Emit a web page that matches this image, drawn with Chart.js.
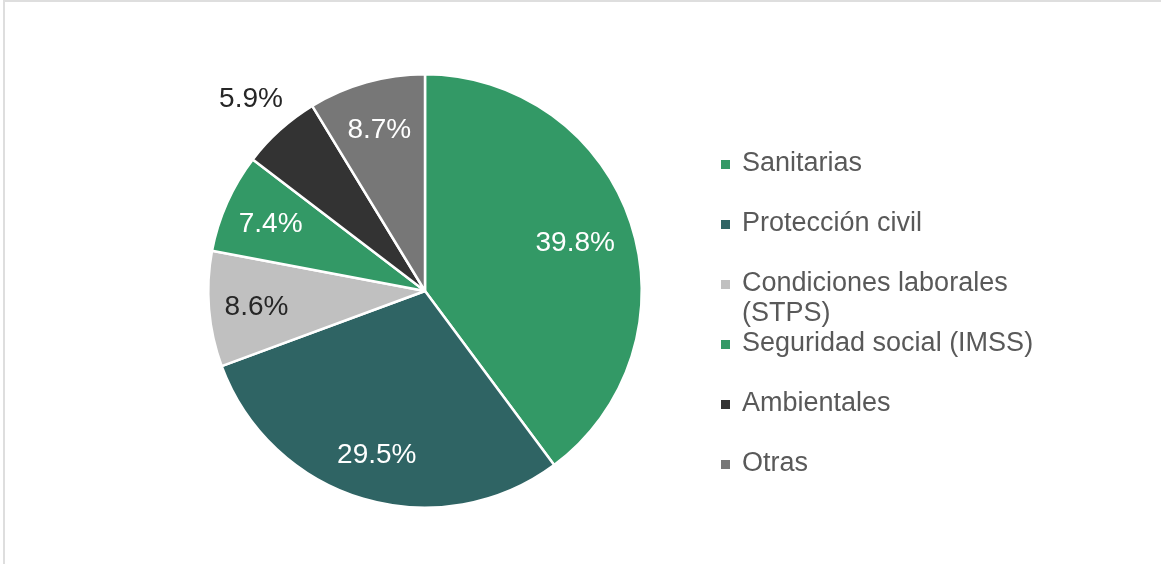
<!DOCTYPE html>
<html>
<head>
<meta charset="utf-8">
<script src="https://cdn.jsdelivr.net/npm/chart.js@4.4.0/dist/chart.umd.min.js"></script>
<style>
  html, body { margin: 0; padding: 0; background: #fff; }
  #wrap { position: relative; width: 1161px; height: 564px; }
  canvas { display: block; }
</style>
</head>
<body>
<div id="wrap"><canvas id="c" width="1161" height="564"></canvas></div>
<script>
const categories = ['Sanitarias', 'Protección civil', ['Condiciones laborales', '(STPS)'], 'Seguridad social (IMSS)', 'Ambientales', 'Otras'];
const shares = [39.8, 29.5, 8.6, 7.4, 5.9, 8.7];
const sliceColors = ['#339966', '#2f6464', '#c0c0c0', '#339966', '#333333', '#777777'];
const labelColors = ['#ffffff', '#ffffff', '#262626', '#ffffff', '#262626', '#ffffff'];

const FONT = '"Liberation Sans", Arial, sans-serif';

const framePlugin = {
  id: 'frame',
  beforeDraw(chart) {
    const ctx = chart.ctx;
    ctx.save();
    ctx.strokeStyle = '#dedede';
    ctx.lineWidth = 2;
    ctx.beginPath();
    ctx.moveTo(4, 564); ctx.lineTo(4, 1); ctx.lineTo(1161, 1);
    ctx.stroke();
    ctx.restore();
  }
};

const sliceLabels = {
  id: 'sliceLabels',
  afterDatasetsDraw(chart) {
    const ctx = chart.ctx;
    const meta = chart.getDatasetMeta(0);
    ctx.save();
    ctx.font = '28px ' + FONT;
    ctx.textAlign = 'center';
    ctx.textBaseline = 'middle';
    meta.data.forEach((arc, i) => {
      const v = chart.data.datasets[0].data[i];
      const p = arc.getProps(['x', 'y', 'startAngle', 'endAngle', 'outerRadius'], true);
      const mid = (p.startAngle + p.endAngle) / 2;
      const f = v < 6 ? 1.2 : (v > 35 ? 0.73 : 0.78);
      const r = p.outerRadius * f;
      ctx.fillStyle = labelColors[i];
      ctx.fillText(v.toFixed(1) + '%', p.x + Math.cos(mid) * r, p.y + Math.sin(mid) * r + 2);
    });
    ctx.restore();
  }
};

const sideLegend = {
  id: 'sideLegend',
  afterDraw(chart) {
    const ctx = chart.ctx;
    ctx.save();
    ctx.font = '27px ' + FONT;
    ctx.textBaseline = 'middle';
    ctx.textAlign = 'left';
    let y = 164;
    chart.data.labels.forEach((lab, i) => {
      const lines = Array.isArray(lab) ? lab : [lab];
      ctx.fillStyle = sliceColors[i];
      ctx.fillRect(721, y - 4, 9, 9);
      ctx.fillStyle = '#595959';
      lines.forEach((ln, j) => ctx.fillText(ln, 742, y + j * 30));
      y += 60;
    });
    ctx.restore();
  }
};

new Chart(document.getElementById('c'), {
  type: 'pie',
  data: {
    labels: categories,
    datasets: [{
      data: shares,
      backgroundColor: sliceColors,
      borderColor: '#ffffff',
      borderWidth: 2.5
    }]
  },
  options: {
    responsive: false,
    animation: false,
    layout: { padding: { left: 206, right: 517, top: 73, bottom: 55 } },
    plugins: { legend: { display: false }, tooltip: { enabled: false } }
  },
  plugins: [framePlugin, sliceLabels, sideLegend]
});
</script>
</body>
</html>
